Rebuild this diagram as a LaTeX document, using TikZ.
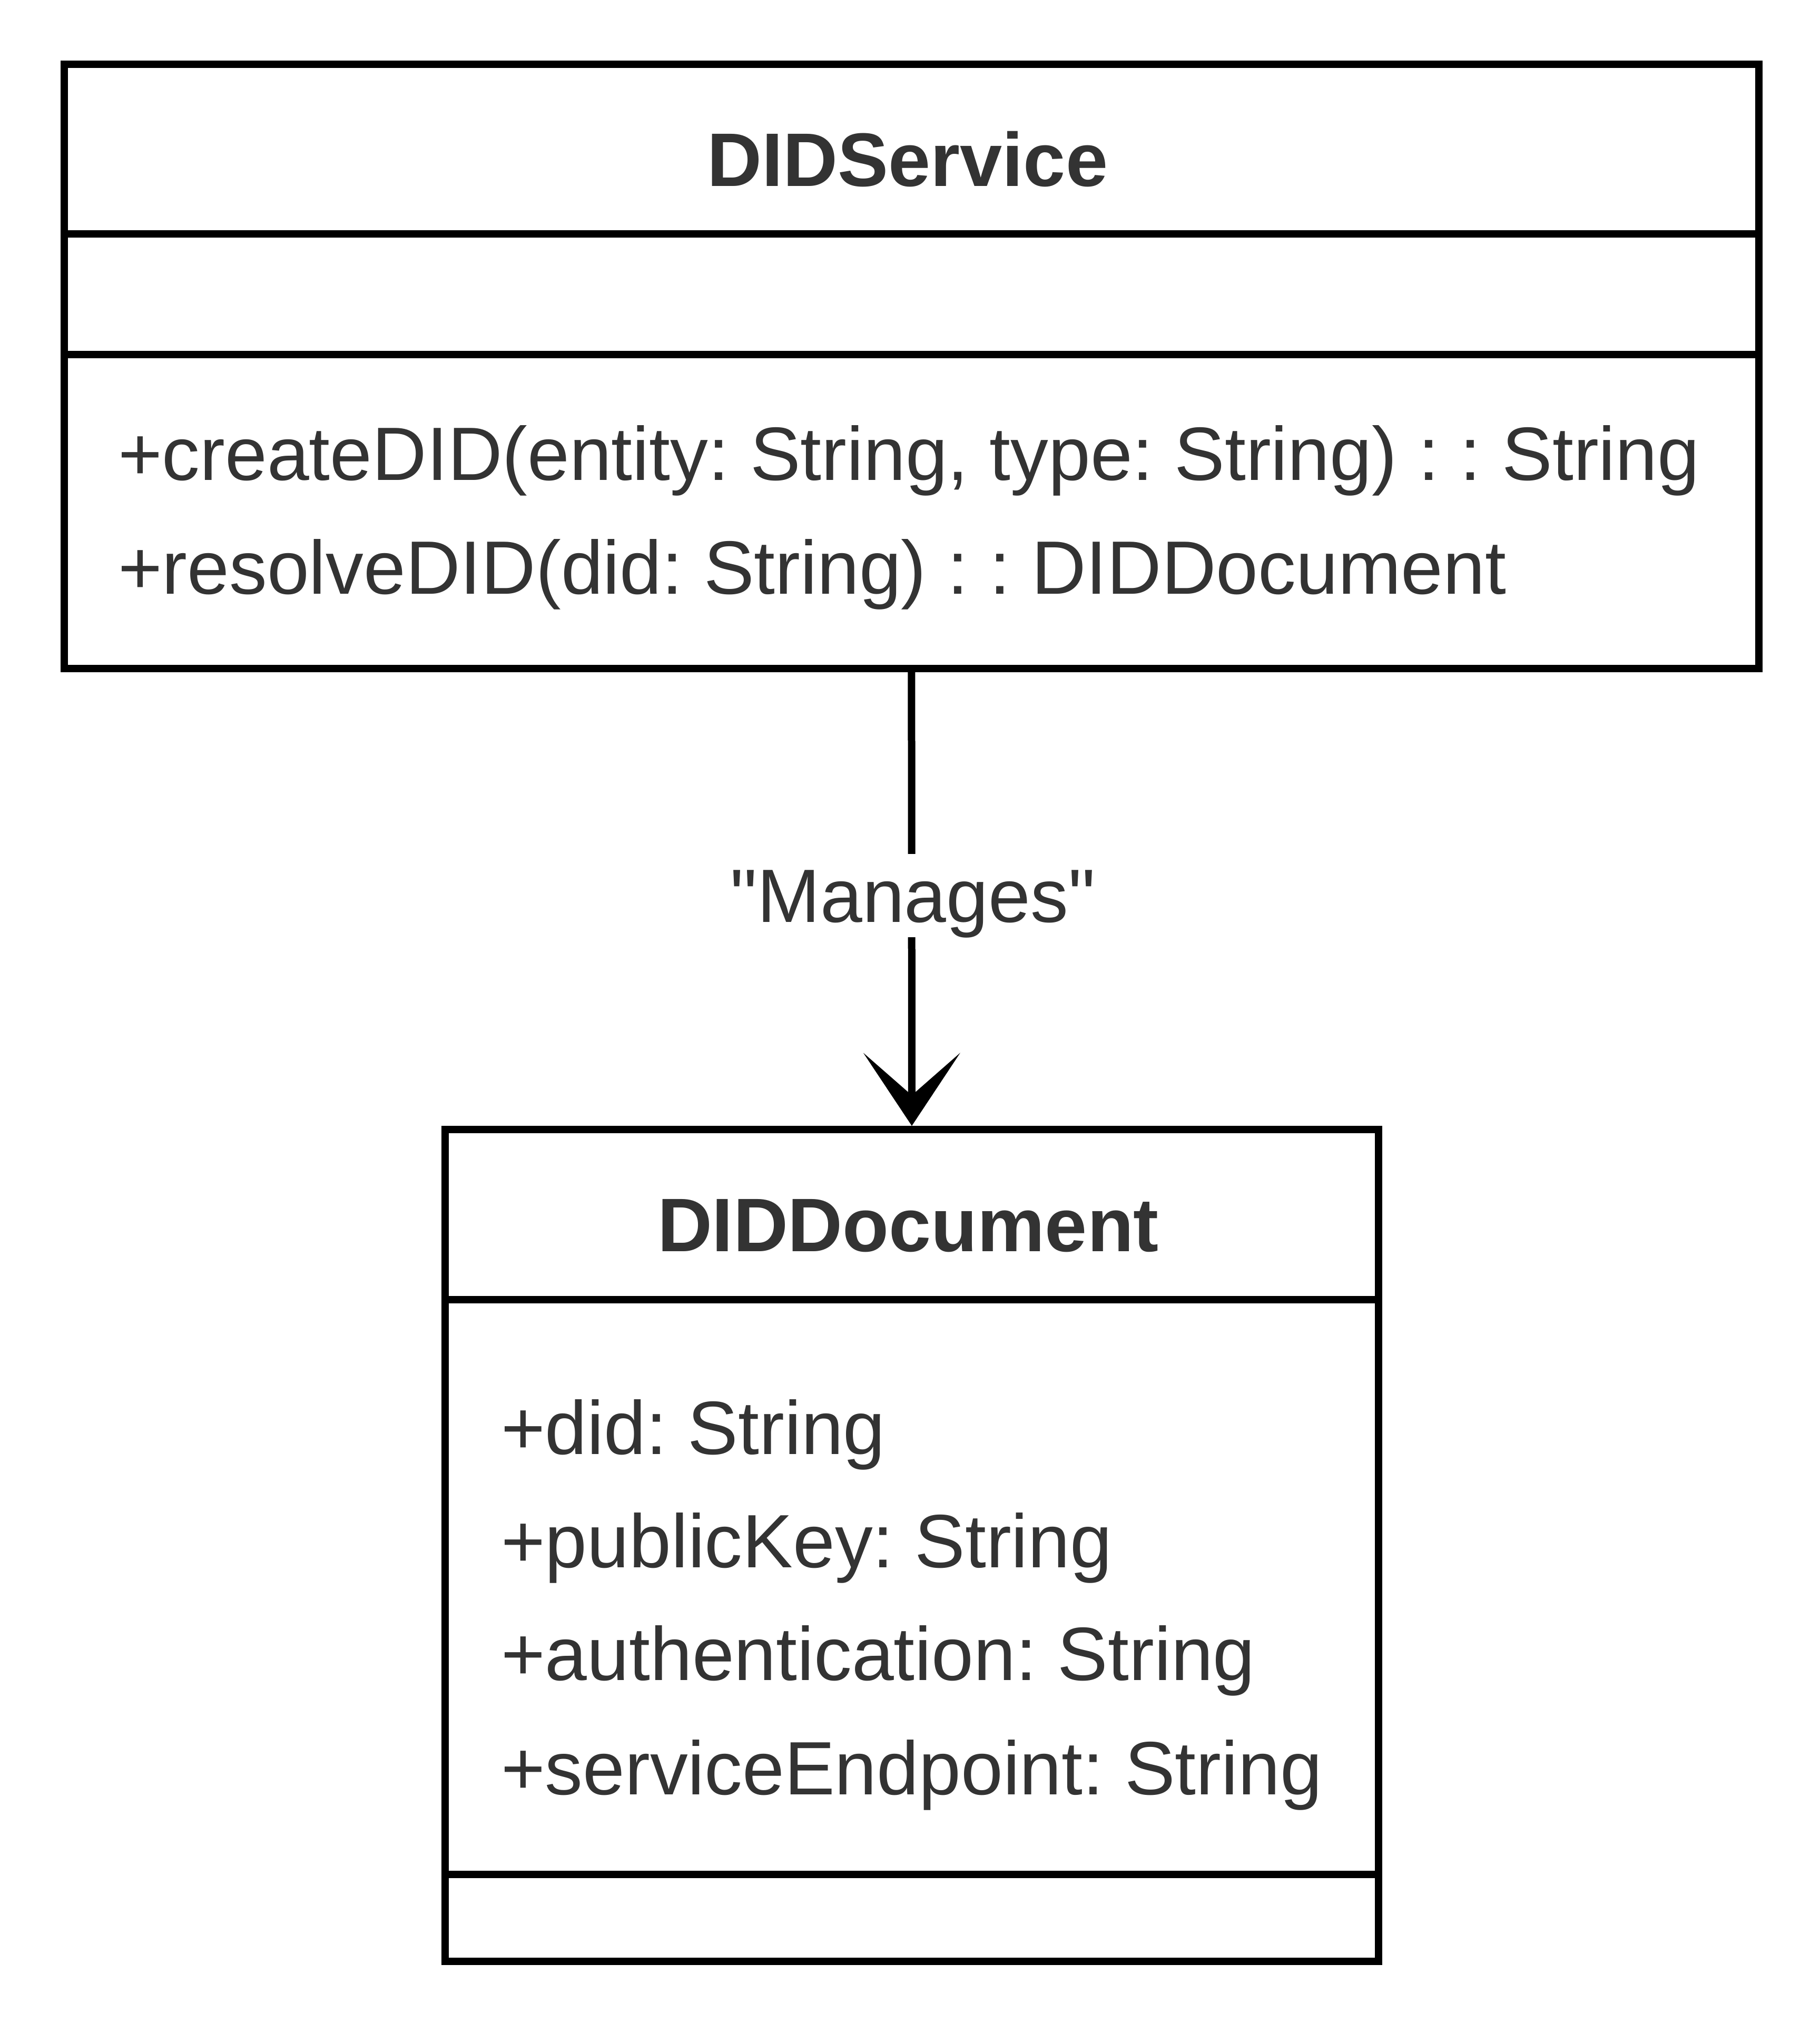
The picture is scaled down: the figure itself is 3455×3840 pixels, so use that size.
\documentclass[tikz,border=0pt]{standalone}
\usepackage{fontspec}
\setmainfont{Liberation Sans}
\usetikzlibrary{arrows.meta}

\definecolor{umltext}{HTML}{333333}
\frenchspacing

\tikzset{
    classbox/.style = {rectangle, draw = black, line width = 1.4pt, inner sep = 0pt, anchor = north west},
    classname/.style = {anchor = base, inner sep = 0pt, text = umltext, font = \fontsize{14.4}{16}\selectfont\bfseries},
    member/.style = {anchor = base west, inner sep = 0pt, text = umltext, font = \fontsize{14.35}{16}\selectfont},
    divider/.style = {line width = 1.4pt},
    linklabel/.style = {fill = white, inner sep = 0pt, text height = 12.9pt, text depth = 2.9pt, text = umltext, font = \fontsize{14.35}{16}\selectfont},
    assoc/.style = {line width = 1.4pt, -{Stealth[length = 13.8pt, width = 18.3pt, inset = 8pt]}}
}

\begin{document}
\begin{tikzpicture}[x = 0.1pt, y = -0.1pt]

    \useasboundingbox (0, 0) rectangle (3455, 3840);

    % DIDService
    \node[classbox, minimum width = 321.7pt, minimum height = 114.7pt] (svc) at (115, 115) {};
    \node[classname] (svcname) at (1723, 353) {DIDService};
    \draw[divider] (115, 444) -- (3332, 444);
    \draw[divider] (115, 673) -- (3332, 673);
    \node[member] (create) at (222, 911) {+createDID(entity: String, type: String) : : String};
    \node[member] (resolve) at (222, 1127) {+resolveDID(did: String) : : DIDDocument};

    % DIDDocument
    \node[classbox, minimum width = 177.2pt, minimum height = 157.9pt] (doc) at (838, 2137) {};
    \node[classname] (docname) at (1724, 2375) {DIDDocument};
    \draw[divider] (838, 2467) -- (2610, 2467);
    \draw[divider] (838, 3558) -- (2610, 3558);
    \node[member] (did) at (949, 2760) {+did: String};
    \node[member] (key) at (949, 2975) {+publicKey: String};
    \node[member] (auth) at (949, 3189) {+authentication: String};
    \node[member] (endpoint) at (949, 3406) {+serviceEndpoint: String};

    % link
    \draw[assoc] (svc.south) -- (doc.north);
    \node[linklabel] (manages) at (1733, 1700) {\textquotedbl Manages\textquotedbl};

\end{tikzpicture}
\end{document}
